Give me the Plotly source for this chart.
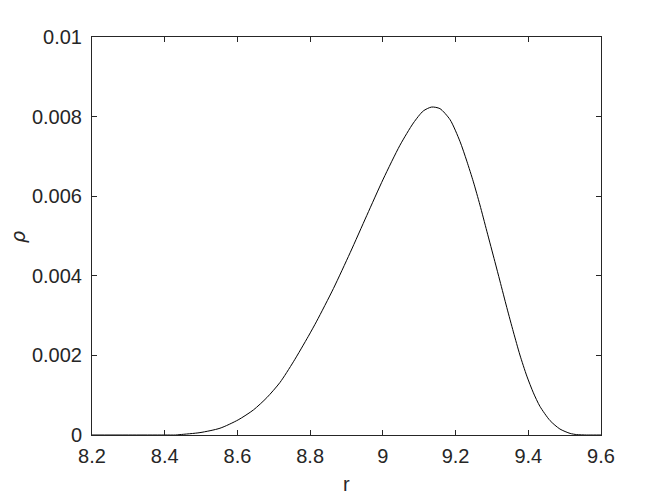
import plotly.graph_objects as go

r_vals = [8.20, 8.30, 8.40, 8.43, 8.442, 8.497, 8.552, 8.602, 8.644, 8.681, 8.717, 8.754, 8.795,
          8.818, 8.864, 8.910, 8.956, 9.001, 9.047, 9.084, 9.111, 9.134, 9.157, 9.185, 9.212,
          9.231, 9.249, 9.267, 9.286, 9.308, 9.322, 9.341, 9.359, 9.377, 9.396, 9.414, 9.432,
          9.460, 9.487, 9.515, 9.533, 9.56, 9.58, 9.60]
rho_vals = [0.0, 0.0, 0.0, 0.0, 0.00001, 0.00006, 0.00017, 0.00038, 0.00063, 0.00094, 0.00132, 0.00184, 0.00248,
            0.00286, 0.00368, 0.00458, 0.00552, 0.00643, 0.00728, 0.00784, 0.00814, 0.00824, 0.00820, 0.00792, 0.00738,
            0.00688, 0.00636, 0.00578, 0.00512, 0.00436, 0.00387, 0.00320, 0.00259, 0.00201, 0.00148, 0.00106, 0.00072,
            0.00036, 0.00015, 0.00004, 0.00001, 0.0, 0.0, 0.0]

x_ticks = [8.2, 8.4, 8.6, 8.8, 9.0, 9.2, 9.4, 9.6]
x_tick_text = ["8.2", "8.4", "8.6", "8.8", "9", "9.2", "9.4", "9.6"]
y_ticks = [0, 0.002, 0.004, 0.006, 0.008, 0.01]
y_tick_text = ["0", "0.002", "0.004", "0.006", "0.008", "0.01"]

AX = "#262626"
FONT = "Liberation Sans, Arial, Helvetica, sans-serif"

fig = go.Figure()
fig.add_trace(go.Scatter(x=r_vals, y=rho_vals, mode="lines",
                         line=dict(color="black", width=1, shape="spline", smoothing=0.7),
                         showlegend=False, hoverinfo="skip"))

axis_common = dict(showgrid=False, zeroline=False, showline=True, linecolor=AX, linewidth=1,
                   mirror="ticks", ticks="inside", ticklen=5, tickcolor=AX, tickwidth=1,
                   tickfont=dict(family=FONT, size=20, color=AX))
fig.update_xaxes(range=[8.2, 9.6], tickvals=x_ticks, ticktext=x_tick_text,
                 ticklabelstandoff=3, **axis_common)
fig.update_yaxes(range=[0, 0.01], tickvals=y_ticks, ticktext=y_tick_text,
                 ticklabelstandoff=5, **axis_common)

# page body has an 8px margin; plot area spans page x 92..601, y 37..435
fig.update_layout(width=656, height=490, margin=dict(l=84, r=63, t=29, b=63, autoexpand=False),
                  paper_bgcolor="white", plot_bgcolor="white",
                  font=dict(family=FONT, color=AX))

fig.add_annotation(text="r", xref="paper", yref="paper", x=0.5, y=(435 - 484) / 398.0,
                   showarrow=False, xanchor="center", yanchor="middle",
                   font=dict(family=FONT, size=20, color=AX))
fig.add_annotation(text="<i>ρ</i>", xref="paper", yref="paper", x=(18 - 92) / 509.0,
                   y=(435 - 237) / 398.0, textangle=-90,
                   showarrow=False, xanchor="center", yanchor="middle",
                   font=dict(family="DejaVu Sans, sans-serif", size=19, color=AX))

fig.write_html("out.html")
